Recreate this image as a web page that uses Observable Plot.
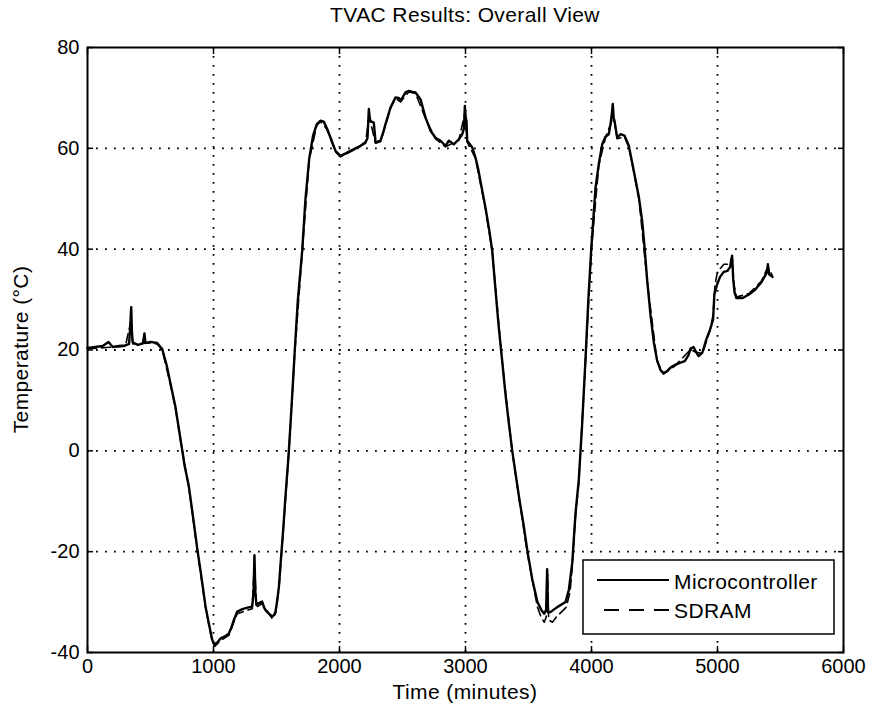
<!DOCTYPE html>
<html>
<head>
<meta charset="utf-8">
<script src="https://cdn.jsdelivr.net/npm/d3@7"></script>
<script src="https://cdn.jsdelivr.net/npm/@observablehq/plot@0.6"></script>
<style>
  html, body { margin: 0; padding: 0; background: #fff; }
  #wrap { position: relative; width: 869px; height: 708px; font-family: "Liberation Sans", Arial, sans-serif; }
  #overlay { position: absolute; left: 0; top: 0; pointer-events: none; }
</style>
</head>
<body>
<div id="wrap"></div>
<script>
// ---- data ----
const titleText = "TVAC Results: Overall View";
const xLabel = "Time (minutes)";
const yLabel = "Temperature (°C)";
const seriesNames = ["Microcontroller", "SDRAM"];
const xTicks = [0, 1000, 2000, 3000, 4000, 5000, 6000];
const yTicks = [-40, -20, 0, 20, 40, 60, 80];

const microTime = [0, 60, 120, 167, 200, 250, 300, 330, 340, 347, 352, 358, 400, 440, 452, 460, 500, 553, 593, 630, 659, 698, 740, 771, 804, 837, 871, 904, 937, 965, 990, 1005,
  1030, 1056, 1090, 1122, 1140, 1161, 1188, 1230, 1270, 1307, 1318, 1325, 1332, 1341, 1360, 1386, 1400, 1413, 1440, 1466, 1480, 1492, 1505, 1519, 1535, 1553, 1571, 1585, 1598, 1620, 1645, 1669, 1704,
  1730, 1760, 1790, 1820, 1850, 1875, 1900, 1929, 1968, 2008, 2050, 2087, 2127, 2167, 2206, 2222, 2233, 2240, 2246, 2272, 2280, 2286, 2325, 2345, 2365, 2405, 2444, 2470, 2484, 2524, 2550, 2580, 2603,
  2643, 2683, 2722, 2762, 2802, 2841, 2868, 2907, 2947, 2974, 2988, 2995, 3002, 3008, 3013, 3053, 3079, 3100, 3130, 3160, 3190, 3212, 3238, 3264, 3291, 3317, 3344, 3371,
  3400, 3430, 3460, 3492, 3530, 3571, 3600, 3625, 3640, 3648, 3655, 3675, 3700, 3728, 3794, 3820, 3847, 3873, 3899, 3925, 3950, 3975, 3998,
  4032, 4058, 4085, 4111, 4137, 4151, 4162, 4169, 4176, 4183, 4204, 4230, 4262, 4296, 4336, 4376, 4402, 4421, 4442, 4468, 4495, 4520, 4548, 4571, 4600, 4627, 4660, 4706, 4740, 4770, 4786, 4810, 4825, 4850, 4880,
  4910, 4940, 4965, 4975, 4997, 5020, 5050, 5080, 5100, 5116, 5125, 5135, 5150, 5200, 5250, 5300, 5350, 5394, 5400, 5410, 5436];
const microTemp = [20.4, 20.6, 20.8, 21.6, 20.6, 20.8, 20.9, 21.2, 25, 28.5, 24, 21.5, 21.0, 21.3, 23.3, 21.4, 21.6, 21.4, 20.2, 16.8, 13.3, 8.7, 2, -3, -7, -13, -19.4, -25, -30.9, -34.5, -37.5, -38.4,
  -38, -37.2, -36.8, -36.2, -35.2, -33.6, -31.9, -31.4, -31.1, -30.9, -28, -20.7, -28, -30.6, -30.2, -29.9, -31, -31.6, -32.3, -32.9, -32.6, -31.9, -29.8, -27, -21.5, -15.7, -9.1, -4.5, 0, 9, 19.9, 29.8, 39.7,
  50, 58, 62.5, 64.8, 65.5, 65.3, 64, 62.1, 59.5, 58.5, 59, 59.5, 60, 60.5, 61.2, 62, 67.8, 66, 65.4, 65.1, 63, 61.2, 61.5, 63, 64.8, 68.1, 70.1, 70, 69.4, 71.1, 71.4, 71.2, 71.1,
  69.7, 66.1, 63.5, 62.1, 61.5, 60.5, 61.5, 60.8, 61.8, 62.8, 64, 68.4, 66, 65.4, 61.5, 60.2, 58.2, 56, 52, 48, 43.5, 39.7, 32, 24.5, 17.9, 11.3, 5.5, 0,
  -5, -10, -14.5, -20, -25.5, -30, -31.5, -32.3, -31.5, -23.5, -32, -32, -31.5, -31, -30, -27.6, -22.3, -12.4, -5.8, 5, 17, 30, 40,
  52.2, 56.9, 60.8, 62.3, 62.8, 64.8, 67, 68.8, 66, 65.4, 62.1, 62.8, 62.5, 60.5, 55.5, 50.3, 45.6, 40.4, 33.8, 27, 21.5, 18, 16, 15.4, 15.8, 16.5, 17, 17.5, 17.8, 19, 20.3, 20.6, 19.8, 18.8, 19.5,
  22, 24, 26, 31, 33, 34.5, 35.5, 35.7, 36.5, 38.7, 34, 31.5, 30.3, 30.3, 31, 32, 33.5, 35.5, 37, 35, 34.5];

const sdramTime = [0, 150, 300, 347, 360, 500, 553, 593, 659, 698, 740, 804, 871, 937, 990, 1010, 1056, 1122, 1161, 1188, 1307, 1325, 1341, 1386, 1466, 1492, 1519, 1553, 1598, 1645, 1704,
  1760, 1820, 1850, 1900, 1968, 2008, 2087, 2206, 2233, 2246, 2286, 2325, 2405, 2444, 2484, 2550, 2603, 2683, 2762, 2841, 2947, 2995, 3013, 3079, 3160, 3212, 3291, 3371,
  3492, 3571, 3600, 3625, 3640, 3652, 3660, 3690, 3720, 3760, 3800, 3830, 3847, 3873, 3899, 3950, 3998, 4058, 4111, 4169, 4183, 4204, 4262, 4296, 4376, 4442, 4520, 4571, 4660, 4786, 4825, 4880,
  4940, 4965, 4980, 5000, 5050, 5080, 5100, 5116, 5130, 5150, 5250, 5350, 5400, 5436];
const sdramTemp = [20.2, 20.5, 20.7, 26, 21.2, 21.4, 21.2, 20, 13.1, 8.5, 1.8, -7.2, -19.6, -31.2, -37.8, -38.8, -37.6, -36.6, -34, -32.3, -31.3, -22, -31, -30.3, -33.3, -32.3, -27.4, -16, -0.3, 19.5, 39.4,
  57.8, 64.6, 65.3, 63.8, 59.3, 58.3, 59.3, 61, 66, 65.2, 61, 61.3, 67.9, 69.9, 69.2, 71.2, 70.9, 65.9, 61.9, 60.3, 61.6, 67, 61.3, 58, 47.8, 39.5, 17.7, -0.2,
  -20.5, -31, -33, -34, -33, -24.5, -33.5, -34, -33, -32, -31, -28, -23, -13, -6.3, 16.5, 39.6, 56.7, 62.1, 66, 65.2, 61.9, 62.3, 60.3, 50.1, 33.6, 17.8, 15.2, 16.8, 20.1, 19.6, 19.3,
  23.8, 27, 33, 35.5, 37, 37, 37.5, 38.5, 33, 30.5, 31.2, 33.7, 36.5, 34.7];

const micro = microTime.map((t, i) => ({t, v: microTemp[i]}));
const sdram = sdramTime.map((t, i) => ({t, v: sdramTemp[i]}));

const W = 869, H = 708;
const M = {top: 47, right: 26, bottom: 56, left: 87};
const fmt = d => String(d);

const chart = Plot.plot({
  width: W, height: H,
  marginTop: M.top, marginRight: M.right, marginBottom: M.bottom, marginLeft: M.left,
  style: {fontFamily: "'Liberation Sans', Arial, sans-serif", fontSize: "20px", color: "black", background: "white"},
  x: {domain: [0, 6000]},
  y: {domain: [-40, 80]},
  marks: [
    Plot.gridX(xTicks.slice(1, -1), {stroke: "black", strokeOpacity: 1, strokeWidth: 1.8, strokeDasharray: "1.8,7.2"}),
    Plot.gridY(yTicks.slice(1, -1), {stroke: "black", strokeOpacity: 1, strokeWidth: 1.8, strokeDasharray: "1.8,7.2"}),
    Plot.line(micro, {x: "t", y: "v", stroke: "black", strokeWidth: 2.4}),
    Plot.line(sdram, {x: "t", y: "v", stroke: "black", strokeWidth: 1.6, strokeDasharray: "9,5"}),
    Plot.frame({stroke: "black", strokeWidth: 2}),
    Plot.axisX(xTicks, {anchor: "bottom", tickSize: 0, tickPadding: 6, label: null, fontSize: 20, tickFormat: fmt}),
    Plot.axisY(yTicks, {anchor: "left", tickSize: 0, tickPadding: 8, label: null, fontSize: 20, tickFormat: fmt}),
    Plot.axisX(xTicks, {anchor: "bottom", tickSize: -6, tickFormat: () => "", label: null, strokeWidth: 1.5}),
    Plot.axisX(xTicks, {anchor: "top", tickSize: -6, tickFormat: () => "", label: null, strokeWidth: 1.5}),
    Plot.axisY(yTicks, {anchor: "left", tickSize: -6, tickFormat: () => "", label: null, strokeWidth: 1.5}),
    Plot.axisY(yTicks, {anchor: "right", tickSize: -6, tickFormat: () => "", label: null, strokeWidth: 1.5})
  ]
});

const wrap = document.getElementById("wrap");
wrap.appendChild(chart);

// overlay: title, axis labels, legend
const ns = "http://www.w3.org/2000/svg";
const ov = document.createElementNS(ns, "svg");
ov.setAttribute("id", "overlay");
ov.setAttribute("width", W);
ov.setAttribute("height", H);
function el(tag, attrs, text) {
  const e = document.createElementNS(ns, tag);
  for (const k in attrs) e.setAttribute(k, attrs[k]);
  if (text != null) e.textContent = text;
  ov.appendChild(e);
  return e;
}
const cx = (M.left + (W - M.right)) / 2;
const fam = "'Liberation Sans', Arial, sans-serif";
el("text", {x: cx, y: 22, "text-anchor": "middle", "font-family": fam, "font-size": 21, "letter-spacing": 0.4}, titleText);
el("text", {x: cx, y: 699, "text-anchor": "middle", "font-family": fam, "font-size": 21, "letter-spacing": 0.4}, xLabel);
el("text", {transform: `translate(28,${(M.top + H - M.bottom) / 2}) rotate(-90)`, "text-anchor": "middle", "font-family": fam, "font-size": 21, "letter-spacing": 0.4}, yLabel);
// legend
el("rect", {x: 583, y: 560, width: 251, height: 74, fill: "white", stroke: "black", "stroke-width": 1.5});
el("line", {x1: 597, x2: 669, y1: 580, y2: 580, stroke: "black", "stroke-width": 1.8});
el("line", {x1: 604, x2: 669, y1: 610, y2: 610, stroke: "black", "stroke-width": 1.8, "stroke-dasharray": "15,10"});
el("text", {x: 674, y: 589, "font-family": fam, "font-size": 21, "letter-spacing": 0.4}, seriesNames[0]);
el("text", {x: 674, y: 618, "font-family": fam, "font-size": 21, "letter-spacing": 0.4}, seriesNames[1]);
wrap.appendChild(ov);
</script>
</body>
</html>
